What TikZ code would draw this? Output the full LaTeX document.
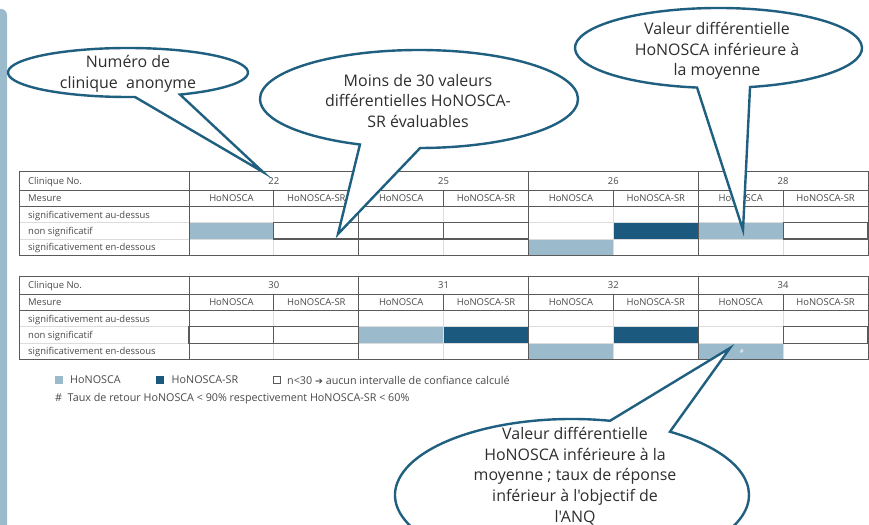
\documentclass[tikz,border=0pt]{standalone}
\usepackage{fontspec}
\setmainfont{Open Sans}[Ligatures=TeXOff]
\newfontfamily\arrowfont{DejaVu Sans}
\usetikzlibrary{calc}
\definecolor{lblue}{HTML}{9BBBCD}
\definecolor{dblue}{HTML}{1B5A7E}
\definecolor{cstroke}{HTML}{1F5F80}
\definecolor{gridd}{HTML}{5A5A5A}
\definecolor{gridl}{HTML}{DCDCDC}
\definecolor{txt}{HTML}{4A4A4A}
\definecolor{ctxt}{HTML}{2E2E2E}
\tikzset{
  tabtxt/.style={font=\fontsize{9.5}{11}\selectfont, text=txt, inner sep=0pt},
  darkline/.style={draw=gridd, line width=0.9bp},
  lightline/.style={draw=gridl, line width=0.9bp},
  boxcell/.style={draw=gridd, line width=1.1bp, fill=white},
  callout/.style={draw=cstroke, line width=2.4bp, fill=white, line join=miter},
  callouttxt/.style={font=\fontsize{16}{20.8}\selectfont, text=ctxt, align=center, inner sep=0pt},
  legtxt/.style={font=\fontsize{10.8}{12}\selectfont, text=txt, inner sep=0pt, anchor=west},
}
% cells: #1 column index 0..7, #2 style
\newcommand\cellN[2]{\path[#2] ({189+84.875*#1},-50.9) rectangle ({189+84.875*(#1+1)},-67.2);}
\newcommand\cellE[2]{\path[#2] ({189+84.875*#1},-67.2) rectangle ({189+84.875*(#1+1)},-83.5);}
% grid and texts: #1 prefix, #2..#5 clinic numbers
\newcommand\tablegrid[5]{%
  \foreach \j in {0,...,3}{
    \draw[lightline] ({273.875+169.75*\j},-34.8) -- ({273.875+169.75*\j},-83.5);
  }
  \draw[lightline] (19,-50.9) -- (868,-50.9);
  \draw[lightline] (19,-67.2) -- (868,-67.2);
  \draw[darkline] (19,0) rectangle (868,-83.5);
  \draw[darkline] (19,-18.2) -- (868,-18.2);
  \draw[darkline] (19,-34.8) -- (868,-34.8);
  \foreach \j in {0,...,3}{
    \draw[darkline] ({189+169.75*\j},0) -- ({189+169.75*\j},-83.5);
    \draw[darkline] ({273.875+169.75*\j},-18.2) -- ({273.875+169.75*\j},-34.8);
    \node[tabtxt, anchor=base] (#1h\j) at ({231.44+169.75*\j},-29.9) {HoNOSCA};
    \node[tabtxt, anchor=base] (#1s\j) at ({316.31+169.75*\j},-29.9) {HoNOSCA-SR};
  }
  \node[tabtxt, anchor=base west] (#1r0) at (28,-12.5) {Clinique No.};
  \node[tabtxt, anchor=base west] (#1r1) at (28,-29.9) {Mesure};
  \node[tabtxt, anchor=base west] (#1r2) at (28,-46.25) {significativement au-dessus};
  \node[tabtxt, anchor=base west] (#1r3) at (28,-62.45) {non significatif};
  \node[tabtxt, anchor=base west] (#1r4) at (28,-78.75) {significativement en-dessous};
  \node[tabtxt, anchor=base] (#1c0) at (273.875,-12.5) {#2};
  \node[tabtxt, anchor=base] (#1c1) at (443.625,-12.5) {#3};
  \node[tabtxt, anchor=base] (#1c2) at (613.375,-12.5) {#4};
  \node[tabtxt, anchor=base] (#1c3) at (783.125,-12.5) {#5};
}
\begin{document}
\begin{tikzpicture}[x=1bp,y=1bp]
\useasboundingbox (0,0) rectangle (869,-525);
\fill[white] (0,0) rectangle (869,-525);
% left bar
\fill[lblue, rounded corners=6bp] (-20,-540) rectangle (7,-9);

% table 1
\begin{scope}[yshift=-171.8bp]
  \cellN{0}{fill=lblue}
  \cellE{4}{fill=lblue}
  \cellN{5}{fill=dblue}
  \cellN{6}{fill=lblue}
  \tablegrid{ta}{22}{25}{26}{28}
  \cellN{1}{boxcell}
  \cellN{2}{boxcell}
  \cellN{3}{boxcell}
  \cellN{7}{boxcell}
\end{scope}

% table 2
\begin{scope}[yshift=-276bp]
  \cellN{2}{fill=lblue}
  \cellN{3}{fill=dblue}
  \cellE{4}{fill=lblue}
  \cellN{5}{fill=dblue}
  \cellE{6}{fill=lblue}
  \tablegrid{tb}{30}{31}{32}{34}
  \cellN{0}{boxcell}
  \cellN{1}{boxcell}
  \cellN{7}{boxcell}
  \node[font=\fontsize{6}{7}\selectfont, text=white, inner sep=0pt] (hash) at (741.7,-75.6) {\#};
\end{scope}

% legend
\fill[lblue] (55,-376) rectangle (62.5,-383.5);
\node[legtxt] (l1) at (70,-380) {HoNOSCA};
\fill[dblue] (156,-376) rectangle (163.5,-383.5);
\node[legtxt] (l2) at (171.5,-380) {HoNOSCA-SR};
\draw[gridd, line width=0.7bp] (273.5,-376.3) rectangle (280.7,-383.5);
\node[legtxt] (l3) at (287,-380) {n<30 {\arrowfont\fontsize{9.5}{10}\selectfont ➔} aucun intervalle de confiance calculé};
\node[legtxt] (l4) at (55,-398.5) {\#\ \ Taux de retour HoNOSCA < 90\% respectivement HoNOSCA-SR < 60\%};

% callout 1
\coordinate (e1) at (128,-72.5);
\coordinate (tip1) at (263,-172);
\draw[callout] (tip1) -- ($(e1)+(-64.3:120bp and 24.5bp)$)
  arc[start angle=-64.3, end angle=273.3, x radius=120bp, y radius=24.5bp] -- cycle;
\node[callouttxt] (c1) at (128,-73.5) {Numéro de\\clinique~ anonyme};

% callout 2
\coordinate (e2) at (419,-99);
\coordinate (tip2) at (338,-234);
\draw[callout] (tip2) -- ($(e2)+(-89.6:159bp and 49bp)$)
  arc[start angle=-89.6, end angle=248.2, x radius=159bp, y radius=49bp] -- cycle;
\node[callouttxt] (c2) at (418,-101) {Moins de 30 valeurs\\différentielles HoNOSCA-\\SR évaluables};

% callout 3
\coordinate (e3) at (718.5,-48);
\coordinate (tip3) at (743,-230);
\draw[callout] (tip3) -- ($(e3)+(-77.3:143.5bp and 40bp)$)
  arc[start angle=-77.3, end angle=261.4, x radius=143.5bp, y radius=40bp] -- cycle;
\node[callouttxt] (c3) at (717,-51) {Valeur différentielle\\HoNOSCA inférieure à\\la moyenne};

% callout 4
\coordinate (e4) at (572,-495);
\coordinate (tip4) at (730,-348);
\draw[callout] (tip4) -- ($(e4)+(77.6:177bp and 76bp)$)
  arc[start angle=77.6, end angle=416.4, x radius=177bp, y radius=76bp] -- cycle;
\node[callouttxt] (c4) at (575,-476) {Valeur différentielle\\HoNOSCA inférieure à la\\moyenne ; taux de réponse\\inférieur à l'objectif de\\l'ANQ};
\end{tikzpicture}
\end{document}
